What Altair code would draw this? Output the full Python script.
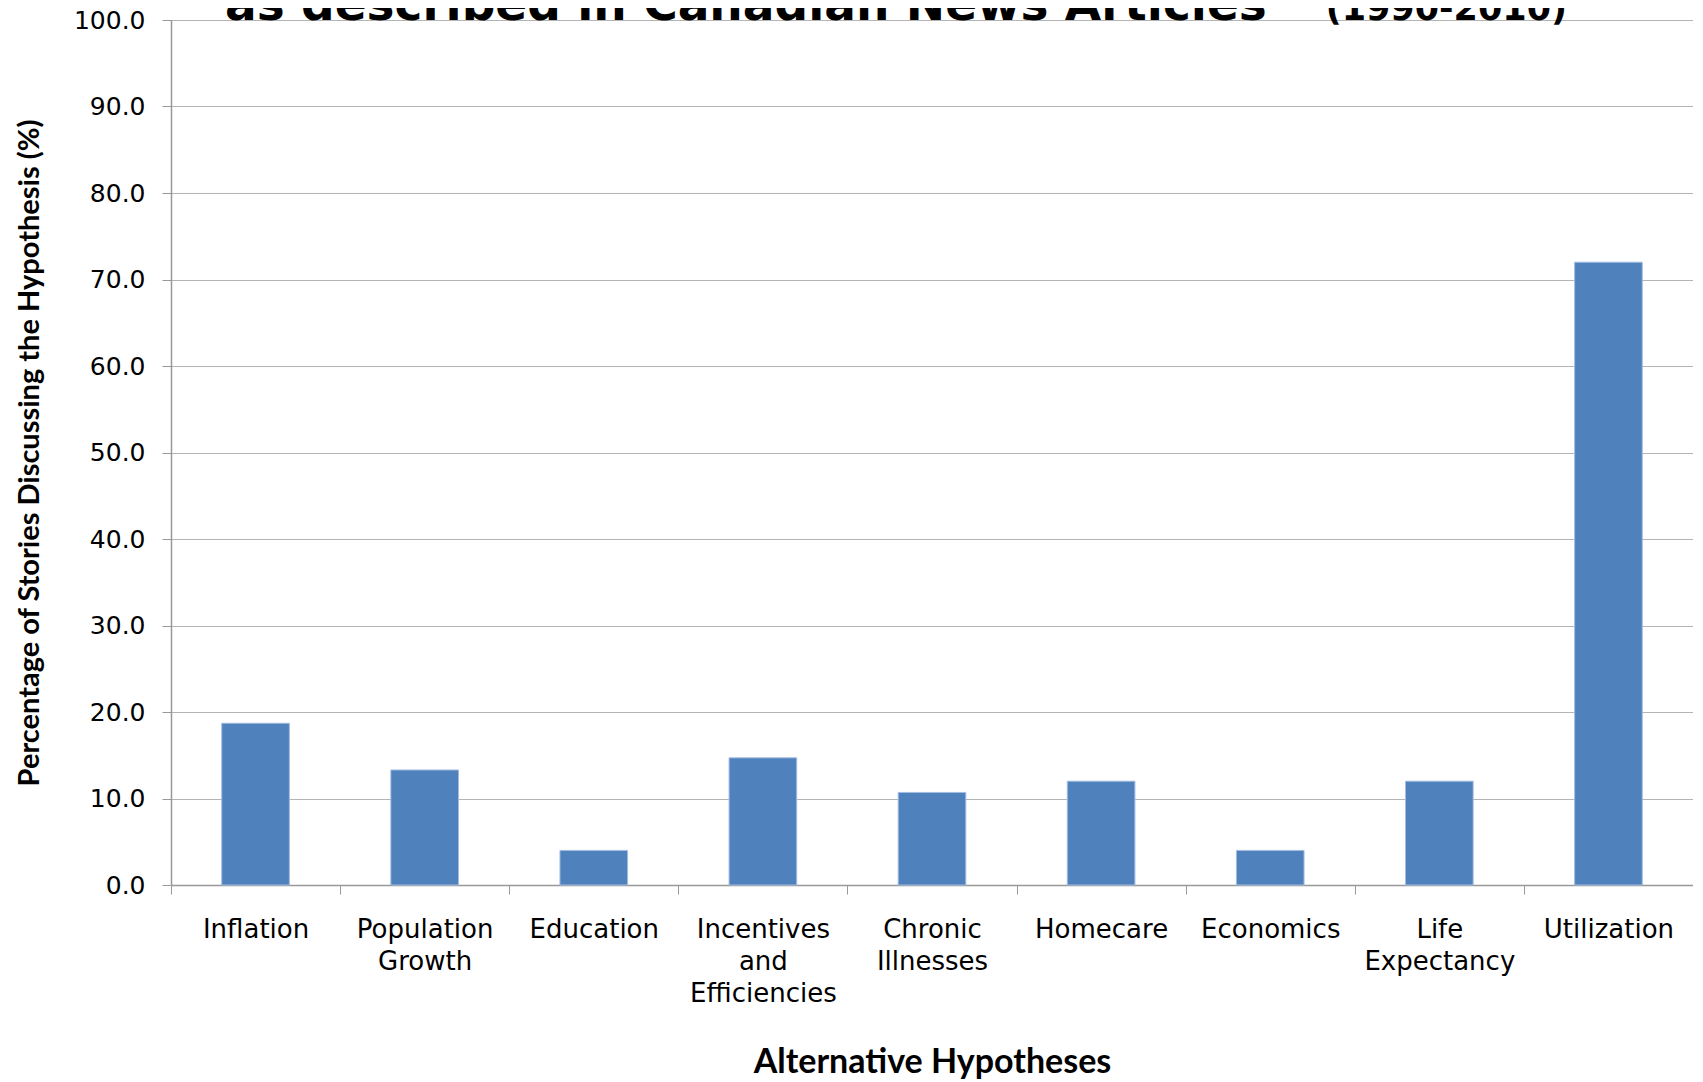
import altair as alt
import pandas as pd

categories = ["Inflation", "Population Growth", "Education", "Incentives and Efficiencies",
              "Chronic Illnesses", "Homecare", "Economics", "Life Expectancy", "Utilization"]
values = [18.7, 13.3, 4.0, 14.7, 10.7, 12.0, 4.0, 12.0, 72.0]
y_ticks = [0, 10, 20, 30, 40, 50, 60, 70, 80, 90, 100]
title_main = "as described in Canadian News Articles"
title_years = "(1990-2010)"
x_title = "Alternative Hypotheses"
y_title = "Percentage of Stories Discussing the Hypothesis (%)"

W, H = 1522, 865

df = pd.DataFrame({"cat": categories, "val": values})

bars = alt.Chart(df).mark_bar(color="#4F81BD", stroke="#a3bde0", strokeWidth=1,
                              width=alt.RelativeBandSize(0.4)).encode(
    x=alt.X("cat:N", sort=None,
            scale=alt.Scale(paddingInner=0, paddingOuter=0),
            axis=alt.Axis(title=x_title, labelAngle=0, labelFont="DejaVu Sans",
                          labelFontSize=26, labelColor="#000000", labelBaseline="top",
                          labelPadding=22, labelLineHeight=32,
                          labelExpr="split(datum.label, ' ')",
                          tickBand="extent", tickSize=9, tickColor="#999999",
                          domainColor="#999999", domainWidth=1.5,
                          titleFont="Lato", titleFontWeight="bold", titleFontSize=34,
                          titleColor="#000000", titleX=W / 2, titleY=177,
                          titleAlign="center", titleBaseline="middle")),
    y=alt.Y("val:Q", scale=alt.Scale(domain=[0, 100]),
            axis=alt.Axis(title=y_title, values=y_ticks, format=".1f",
                          labelFont="DejaVu Sans", labelFontSize=25, labelColor="#000000",
                          labelPadding=17, tickSize=9, tickColor="#999999",
                          domainColor="#999999", domainWidth=1.5,
                          grid=True, gridColor="#b4b4b4", gridWidth=1.2,
                          titleFont="Lato", titleFontWeight="bold", titleFontSize=29,
                          titleColor="#000000", titleAngle=270, titleX=-142, titleY=H / 2,
                          titleAlign="center", titleBaseline="middle")),
)

t1 = alt.Chart(pd.DataFrame({"t": [title_main]})).mark_text(
    font="DejaVu Sans", fontWeight="bold", fontSize=47, align="left",
    baseline="alphabetic", color="#000000"
).encode(text="t:N", x=alt.value(54), y=alt.value(0))

t2 = alt.Chart(pd.DataFrame({"t": [title_years]})).mark_text(
    font="DejaVu Sans", fontWeight="bold", fontSize=35, align="right",
    baseline="alphabetic", color="#000000"
).encode(text="t:N", x=alt.value(1396), y=alt.value(0))

chart = alt.layer(bars, t1, t2).properties(
    width=W, height=H,
    autosize=alt.AutoSizeParams(type="none"),
    padding={"left": 163, "top": 12, "right": 0, "bottom": 197},
).configure_view(stroke=None).configure(background="#ffffff")

chart.save("out.html", embed_options={"renderer": "svg", "actions": False})
